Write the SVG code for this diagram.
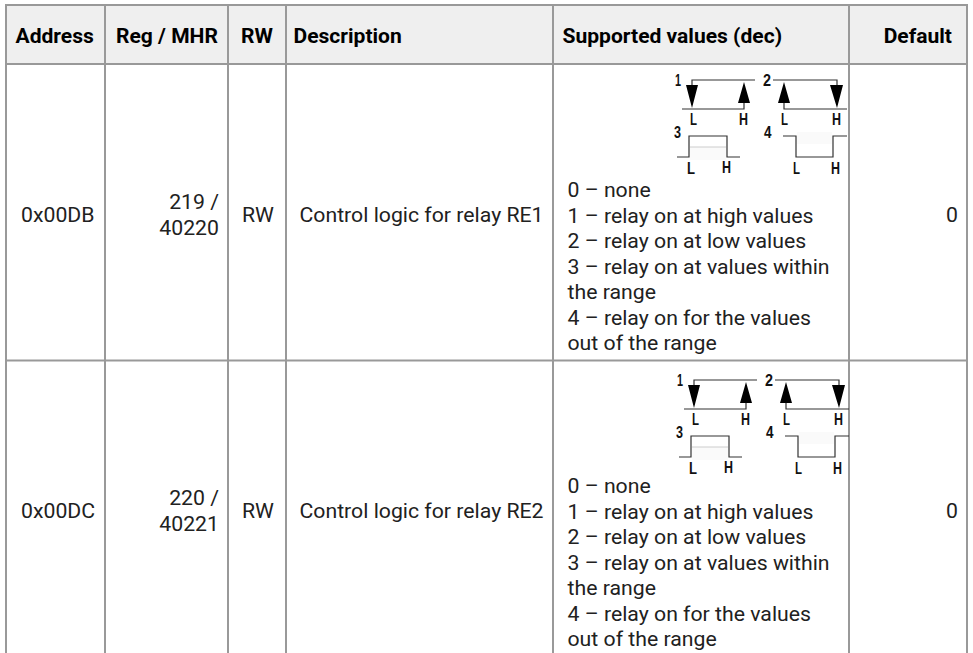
<svg xmlns="http://www.w3.org/2000/svg" width="973" height="653" viewBox="0 0 973 653">
<style>
text{font-family:Roboto,"Liberation Sans",sans-serif;font-size:19.500px;fill:#212121;transform-box:fill-box;transform-origin:0 50%;transform:scaleX(1.09)}
.h{font-weight:700;fill:#000;transform:scaleX(1.08)}
.e{text-anchor:end;transform-origin:100% 50%}
.g{stroke:#999;stroke-width:2;fill:none}
.d{stroke:#333;stroke-width:1.2;fill:none}
text.i{font-family:"Liberation Sans",sans-serif;font-size:16px;font-weight:700;fill:#111;transform:none}
.a{fill:#000}
.l{stroke:#ccc;stroke-width:1;fill:none}
.f{fill:#fafafa}
</style>
<defs>
<g id="logic">
<rect class="f" x="690" y="147" width="36" height="13"/>
<rect class="f" x="797" y="132" width="35" height="12"/>
<path class="l" d="M690 147H726"/>
<path class="d" d="M755 80H692V85M682 109H744V103"/>
<path class="d" d="M773 80H837V85M847 109H784V103"/>
<path class="d" d="M677 157H689V136H727V157H740"/>
<path class="d" d="M783 136H796V157H833V136H847"/>
<path class="a" d="M686 85H698L692 108ZM738 103L744 82L750 103ZM778 103L784 82L790 103ZM830 85H843L837 108Z"/>
<text class="i" x="675" y="86" textLength="6" lengthAdjust="spacingAndGlyphs">1</text>
<text class="i" x="763" y="86" textLength="8" lengthAdjust="spacingAndGlyphs">2</text>
<text class="i" x="674" y="138" textLength="7" lengthAdjust="spacingAndGlyphs">3</text>
<text class="i" x="764" y="138" textLength="7.500" lengthAdjust="spacingAndGlyphs">4</text>
<text class="i" x="690" y="125" textLength="7" lengthAdjust="spacingAndGlyphs">L</text>
<text class="i" x="739" y="125" textLength="9" lengthAdjust="spacingAndGlyphs">H</text>
<text class="i" x="781" y="125" textLength="7" lengthAdjust="spacingAndGlyphs">L</text>
<text class="i" x="832" y="125" textLength="9" lengthAdjust="spacingAndGlyphs">H</text>
<text class="i" x="687" y="174" textLength="8" lengthAdjust="spacingAndGlyphs">L</text>
<text class="i" x="722" y="173" textLength="9" lengthAdjust="spacingAndGlyphs">H</text>
<text class="i" x="793" y="174" textLength="7" lengthAdjust="spacingAndGlyphs">L</text>
<text class="i" x="831" y="174" textLength="9" lengthAdjust="spacingAndGlyphs">H</text>
</g>
</defs>
<g id="table-grid">
<rect x="7" y="6" width="959" height="58" fill="#efefef"/>
<path class="g" d="M6 653V5H967V653M6 64H967M6 360.500H967M105 5V653M228 5V653M286 5V653M553 5V653M849 5V653"/>
</g>
<g id="header">
<text class="h" x="15.500" y="43">Address</text>
<text class="h" x="116" y="43">Reg / MHR</text>
<text class="h" x="241" y="43">RW</text>
<text class="h" x="293.500" y="43">Description</text>
<text class="h" x="562.500" y="43">Supported values (dec)</text>
<text class="h e" x="952" y="43">Default</text>
</g>
<g id="row1">
<text x="21" y="222">0x00DB</text>
<text class="e" x="219" y="209.500">219 /</text>
<text class="e" x="219" y="235.500">40220</text>
<text x="242" y="222">RW</text>
<text x="299.500" y="222">Control logic for relay RE1</text>
<use href="#logic"/>
<text x="567.500" y="197.500">0 – none</text>
<text x="567.500" y="223">1 – relay on at high values</text>
<text x="567.500" y="248.500">2 – relay on at low values</text>
<text x="567.500" y="274">3 – relay on at values within</text>
<text x="567.500" y="299.500">the range</text>
<text x="567.500" y="325">4 – relay on for the values</text>
<text x="567.500" y="350.500">out of the range</text>
<text class="e" x="958" y="222">0</text>
</g>
<g id="row2">
<text x="21" y="518">0x00DC</text>
<text class="e" x="219" y="505.500">220 /</text>
<text class="e" x="219" y="531.500">40221</text>
<text x="242" y="518">RW</text>
<text x="299.500" y="518">Control logic for relay RE2</text>
<use href="#logic" x="2" y="300"/>
<text x="567.500" y="493.500">0 – none</text>
<text x="567.500" y="519">1 – relay on at high values</text>
<text x="567.500" y="544.500">2 – relay on at low values</text>
<text x="567.500" y="570">3 – relay on at values within</text>
<text x="567.500" y="595.500">the range</text>
<text x="567.500" y="621">4 – relay on for the values</text>
<text x="567.500" y="646.500">out of the range</text>
<text class="e" x="958" y="518">0</text>
</g>
</svg>
